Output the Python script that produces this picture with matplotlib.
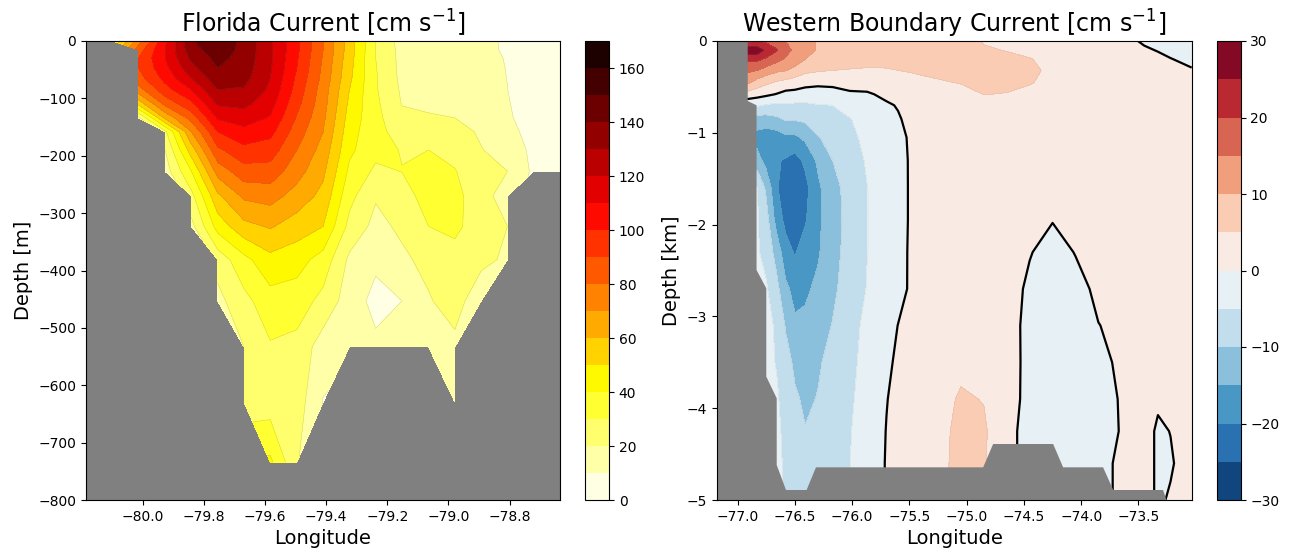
import numpy as np
import matplotlib
matplotlib.use("Agg")
import matplotlib.pyplot as plt

nan = np.nan

# ---------------- Florida Current section (cm/s) ----------------
fc_lon = [-80.186, -80.100, -80.014, -79.927, -79.841, -79.755, -79.669, -79.583,
          -79.496, -79.410, -79.324, -79.238, -79.152, -79.065, -78.979, -78.893,
          -78.807, -78.721, -78.635]
fc_depth = [0, 15, 30, 47, 65, 85, 108, 134, 158, 190, 227, 270, 323, 381, 453, 533, 629, 734]
# one list per station, surface to bottom (nan = below sea floor)
fc_speed_by_station = [
    [nan] * 18,
    [40] + [nan] * 17,
    [75, 85, 90, 90, 86, 76, 55, 18] + [nan] * 10,
    [108, 110, 110, 107, 103, 96, 84, 62, 28, 20, 15] + [nan] * 7,
    [139, 136, 132, 127, 120, 110, 98, 84, 70, 55, 40, 27, 17] + [nan] * 5,
    [148, 146, 143, 140, 136, 130, 122, 111, 100, 88, 74, 58, 44, 24, 17] + [nan] * 3,
    [137, 137, 136, 135, 133, 129, 123, 115, 107, 97, 86, 72, 57, 37, 27, 20, 24, nan],
    [122, 122, 122, 121, 120, 118, 114, 109, 103, 95, 86, 74, 61, 47, 36, 29, 25, 42],
    [102, 102, 101, 100, 98, 96, 93, 89, 85, 80, 74, 66, 55, 44, 35, 27, 25, 21],
    [80, 80, 79, 78, 77, 75, 74, 72, 70, 66, 62, 57, 50, 36, 27, 15, 9.5, nan],
    [55, 55, 54, 53, 52, 50, 48, 46, 44, 42, 38, 33, 27, 18, 15, 12, nan, nan],
    [30, 30, 30, 30.5, 31, 31, 32, 33, 33, 33, 28, 21, 17, 12, 7, 12, nan, nan],
    [16, 16.5, 17, 17, 17.5, 18.5, 19.5, 22, 26, 29.5, 30.2, 25, 22, 18, 10, 14, nan, nan],
    [14, 14, 14.5, 15, 15.5, 16.5, 18, 21, 26, 30, 36, 35, 30, 23, 19, 16, nan, nan],
    [13, 13, 13.5, 14, 14.5, 15, 17, 20, 24, 27, 30.5, 34, 33, 25, 25, 17, 15, nan],
    [11, 11, 11.5, 12, 12.5, 13, 14, 16, 18.5, 20.5, 23, 22, 23, 23, 12, nan, nan, nan],
    [9.5, 9.5, 9.7, 9.8, 9.9, 10.05, 10.5, 11, 12.5, 15, 20, 17.5, 20, 18, nan, nan, nan, nan],
    [6, 6, 6, 6, 6, 6, 6, 6.5, 7, 8, 8] + [nan] * 7,
    [5, 5, 5, 5, 5, 5, 5, 5.5, 6, 6, 7] + [nan] * 7,
]
fc_levels = list(range(0, 171, 10))
fc_cbar_ticks = [0, 20, 40, 60, 80, 100, 120, 140, 160]
fc_xticks = [-80.0, -79.8, -79.6, -79.4, -79.2, -79.0, -78.8]
fc_yticks = [0, -100, -200, -300, -400, -500, -600, -700, -800]

# ---------------- Western Boundary Current section (cm/s) ----------------
wbc_lon = [-77.183, -76.91, -76.83, -76.75, -76.66, -76.58, -76.50, -76.41, -76.30,
           -76.17, -76.02, -75.87, -75.70, -75.60, -75.50, -75.30, -75.05, -74.85,
           -74.65, -74.45, -74.25, -74.05, -73.85, -73.65, -73.45, -73.33, -73.22,
           -73.035]
wbc_depth = [0, 0.1, 0.2, 0.32, 0.45, 0.58, 0.7, 0.85, 1.05, 1.3, 1.6, 1.95, 2.3,
             2.7, 3.1, 3.5, 3.9, 4.25, 4.6, 5.0]
wbc_v_by_lon = [
    [21, 28, 21, 16, 11, 3, -4, -12, -17, -13, -5, -4.5, -4.5, -4, -4, -4, -4, -4, -4, -4],
    [21, 28, 21, 16, 11, 3, -4, -12, -17, -13, -5, -4.5, -4.5, -4, -4, -4, -4, -4, -4, -4],
    [20, 28, 21, 15, 8, 2, -4.5, -12, -17, -13, -4.8, -4.5, -4.5, -4.2, -4, -4, -4, -4, -4, -4],
    [19, 24, 19, 13, 6, 1, -5.5, -12, -18, -17, -11, -8, -6.5, -4.5, -4, -4, -4, -4, -4, -4],
    [17, 20.5, 16.5, 11, 4.5, -0.2, -6, -11, -17.5, -19.5, -19.5, -17, -12, -8.5, -5.5, -5.2, -4.5, -4.3, -4.2, -4],
    [15, 16.5, 14.5, 10.2, 3.5, -1.5, -5.5, -9.5, -16, -20.5, -22.5, -21.5, -18, -14, -10.5, -8, -6.5, -5.8, -5.5, -5.5],
    [13, 14, 12.5, 8.5, 2.5, -1.5, -6, -9.5, -16, -22, -24, -23.5, -20.5, -16.5, -14.2, -11, -9.3, -8.5, -7.8, -7.5],
    [12, 12, 10, 6.2, 1.5, -2, -6, -9, -14, -19, -21.5, -20.5, -17.5, -15.8, -14, -12.5, -10.8, -9.8, -8.5, -8],
    [9.5, 9.5, 8.5, 5.5, 1.0, -2, -5.3, -8, -10.2, -14.2, -16, -16, -15.6, -14, -12, -10.6, -9.8, -8.5, -7.5, -7],
    [8.5, 8.5, 7.5, 5, 1.0, -1.5, -5, -7, -9, -10, -11.5, -12, -11.5, -10.8, -9.8, -8.5, -7.5, -7, -6.5, -6.5],
    [8, 8, 7, 4.7, 1.3, -0.5, -2.5, -5.3, -6.5, -7.5, -8.3, -8.3, -8.3, -8, -6.5, -6, -5.6, -5.2, -5.05, -5],
    [7.5, 7.5, 6.5, 4.5, 1.5, -0.4, -1.5, -2.5, -3.5, -4.5, -5.1, -5.1, -5.1, -4.8, -4.0, -3.7, -3.3, -3.2, -3, -3],
    [7, 7, 6.5, 4.6, 2, 0.7, -0.4, -1.5, -2.2, -2.8, -3, -3, -3, -2.8, -1.5, -0.8, -0.15, 0.15, 0.3, 0.3],
    [6.9, 6.9, 6.5, 5.0, 2.5, 1.1, 0.2, -0.3, -0.9, -1.2, -1.3, -1.3, -1.3, -1.2, 0.05, 0.7, 1.2, 1.4, 1.5, 1.5],
    [6.8, 6.8, 6.5, 5.4, 3, 1.5, 0.8, 0.7, 0.3, 0.2, 0.2, 0.2, 0.3, 0.3, 1.6, 2.0, 2.2, 2.3, 2.3, 2.3],
    [6.5, 6.5, 6.2, 5.8, 4.5, 2.8, 2, 1.6, 1.4, 1.3, 1.3, 1.3, 1.4, 1.5, 1.8, 2.2, 2.5, 2.5, 2.5, 2.5],
    [6, 6, 6, 5.8, 5.2, 3.8, 2.6, 2, 1.7, 1.6, 1.6, 1.7, 1.8, 2, 2.5, 3.8, 5.6, 6.5, 6.8, 6.8],
    [4.8, 5.3, 5.6, 5.6, 5.4, 5.05, 3, 2.3, 1.9, 1.7, 1.6, 1.6, 1.7, 1.9, 2.3, 3.2, 4.8, 5.8, 5.5, 5],
    [3.8, 4.9, 5.6, 5.8, 5.6, 4.9, 3.5, 2.5, 2.2, 2, 1.8, 1.6, 1.4, 1.2, 1.0, 0.9, 0.7, 0.5, 0.5, 0.5],
    [3, 4, 5.2, 5.5, 5.2, 4.3, 3.2, 2.5, 2, 1.8, 1.5, 1.0, 0.15, -0.5, -0.7, -0.6, -0.5, -0.6, -0.6, -0.6],
    [2.5, 3, 3.8, 4.5, 4.2, 3.5, 2.8, 2.2, 1.8, 1.4, 0.8, 0.1, -1, -1.3, -1.4, -1.3, -1.1, -0.9, -0.9, -0.9],
    [1.5, 2, 2.6, 3, 3, 2.7, 2.4, 2.1, 1.8, 1.5, 1.2, 0.8, 0.1, -0.8, -1.2, -1.3, -1.2, -1.0, -0.6, -0.6],
    [1.0, 1.5, 2.0, 2.4, 2.5, 2.4, 2.2, 2.0, 1.8, 1.6, 1.3, 1.1, 0.9, 0.5, -0.05, -0.6, -0.8, -0.8, -0.5, -0.5],
    [0.8, 1.2, 1.6, 2, 2.2, 2.2, 2.0, 1.8, 1.6, 1.5, 1.3, 1.1, 0.9, 0.7, 0.5, 0.4, 0.15, 0.1, 0.3, 0.3],
    [-0.3, 0.3, 0.9, 1.4, 1.7, 1.8, 1.7, 1.5, 1.4, 1.3, 1.1, 1.0, 0.9, 0.8, 0.7, 0.6, 0.5, 0.4, 0.4, 0.4],
    [-1.5, -0.1, 0.5, 1.0, 1.3, 1.4, 1.3, 1.2, 1.1, 1.0, 0.9, 0.8, 0.7, 0.6, 0.5, 0.3, 0.15, -0.15, -0.15, -0.15],
    [-2, -0.6, 0.1, 0.6, 0.9, 1.0, 1.0, 1.0, 0.9, 0.8, 0.7, 0.6, 0.5, 0.4, 0.3, 0.2, 0.1, 0.02, -0.1, 0.1],
    [-3, -2, -0.6, 0.2, 0.6, 0.8, 0.8, 0.8, 0.8, 0.7, 0.7, 0.6, 0.6, 0.5, 0.5, 0.5, 0.5, 0.5, 0.5, 0.5],
]
# sea floor / continental slope outline (lon, depth km)
wbc_topo_lon = [-77.183, -76.912, -76.912, -76.835, -76.835, -76.750, -76.750, -76.659,
                -76.659, -76.578, -76.398, -76.316, -74.856, -74.769, -74.245, -74.158,
                -73.809, -73.720, -73.285, -73.256, -77.183]
wbc_topo_depth = [0, 0, 0.654, 0.70, 2.495, 2.694, 3.656, 3.892, 4.619, 4.891, 4.891,
                  4.644, 4.644, 4.39, 4.39, 4.644, 4.644, 4.891, 4.891, 5.0, 5.0]
wbc_levels = list(range(-30, 31, 5))
wbc_cbar_ticks = [-30, -20, -10, 0, 10, 20, 30]
wbc_xticks = [-77.0, -76.5, -76.0, -75.5, -75.0, -74.5, -74.0, -73.5]
wbc_yticks = [0, -1, -2, -3, -4, -5]

# ---------------- figure ----------------
W, H = 1295, 554
fig = plt.figure(figsize=(W / 100, H / 100), dpi=100)

def box(x0, x1, y0=41, y1=500):
    return [x0 / W, 1 - y1 / H, (x1 - x0) / W, (y1 - y0) / H]

ax1 = fig.add_axes(box(86, 560))
cax1 = fig.add_axes(box(585, 609))
ax2 = fig.add_axes(box(716.7, 1191.7))
cax2 = fig.add_axes(box(1217, 1240.5))

# left panel
X1 = np.array(fc_lon)
Y1 = -np.array(fc_depth, dtype=float)
Z1 = np.ma.masked_invalid(np.array(fc_speed_by_station, dtype=float).T)
ax1.set_facecolor("#808080")
cs1 = ax1.contourf(X1, Y1, Z1, levels=fc_levels, cmap="hot_r")
ax1.contour(X1, Y1, Z1, levels=fc_levels[1:-1], colors="0.45", linewidths=0.3, alpha=0.35)
ax1.set_xlim(fc_lon[0], fc_lon[-1])
ax1.set_ylim(-800, 0)
ax1.set_xticks(fc_xticks)
ax1.set_yticks(fc_yticks)
ax1.set_xlabel("Longitude", fontsize=14)
ax1.set_ylabel("Depth [m]", fontsize=14)
ax1.set_title("Florida Current [cm s$^{-1}$]", fontsize=17)
cb1 = fig.colorbar(cs1, cax=cax1, ticks=fc_cbar_ticks)
cb1.outline.set_linewidth(0.8)

# right panel
X2 = np.array(wbc_lon)
Y2 = -np.array(wbc_depth)
Z2 = np.array(wbc_v_by_lon, dtype=float).T
ax2.set_facecolor("#808080")
cs2 = ax2.contourf(X2, Y2, Z2, levels=wbc_levels, cmap="RdBu_r")
ax2.contour(X2, Y2, Z2, levels=[l for l in wbc_levels if l != 0][1:-1], colors="0.6",
            linewidths=0.3, alpha=0.35)
ax2.contour(X2, Y2, Z2, levels=[0], colors="k", linewidths=1.6)
ax2.fill(wbc_topo_lon, -np.array(wbc_topo_depth), color="#808080", lw=0, zorder=3)
ax2.set_xlim(wbc_lon[0], wbc_lon[-1])
ax2.set_ylim(-5, 0)
ax2.set_xticks(wbc_xticks)
ax2.set_yticks(wbc_yticks)
ax2.set_xlabel("Longitude", fontsize=14)
ax2.set_ylabel("Depth [km]", fontsize=14)
ax2.set_title("Western Boundary Current [cm s$^{-1}$]", fontsize=17)
cb2 = fig.colorbar(cs2, cax=cax2, ticks=wbc_cbar_ticks)
cb2.outline.set_linewidth(0.8)

for a in (ax1, ax2):
    for s in a.spines.values():
        s.set_zorder(5)

fig.savefig("out.png", dpi=100)
